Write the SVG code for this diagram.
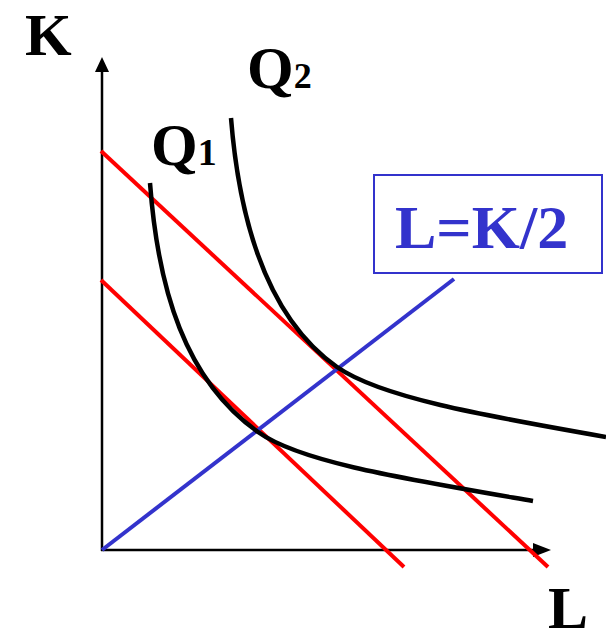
<svg xmlns="http://www.w3.org/2000/svg" width="606" height="632" viewBox="0 0 606 632">
<style>
.lbl{font-family:"Liberation Serif","Times New Roman",serif;font-weight:bold;fill:#000}
.axis{stroke:#000;stroke-width:2.5;fill:none}
.curve{stroke:#000;stroke-width:4.5;fill:none}
.budget{stroke:#ff0000;stroke-width:4;fill:none}
.ray{stroke:#3333cc;stroke-width:4;fill:none}
</style>
<rect width="606" height="632" fill="#fff"/>
<g id="axes">
<line class="axis" x1="102" y1="551" x2="102" y2="70"/>
<polygon points="102,57 95,72 109,72" fill="#000"/>
<line class="axis" x1="101" y1="550" x2="535" y2="550"/>
<polygon points="551,550 533,543 533,557" fill="#000"/>
<text class="lbl" x="25" y="55" font-size="60">K</text>
<text class="lbl" x="548" y="628" font-size="60">L</text>
</g>
<g id="connectors">
<line class="budget" x1="101" y1="151" x2="548" y2="567"/>
<line class="budget" x1="101" y1="280" x2="404" y2="567"/>
<line class="ray" x1="102" y1="550" x2="454" y2="279"/>
<path id="q1" class="curve" d="M150,183 C158,290 185,380 258,432 C300,462 400,478 533,501"/>
<path id="q2" class="curve" d="M231,118 C240,230 270,320 337,367 C380,397 480,415 606,437"/>
</g>
<g id="label-q1">
<text class="lbl" x="151" y="165" font-size="60">Q<tspan font-size="38">1</tspan></text>
</g>
<g id="label-q2">
<text class="lbl" x="247" y="88" font-size="60">Q<tspan font-size="36">2</tspan></text>
</g>
<g id="eq-box">
<rect x="374" y="175" width="228" height="98" fill="none" stroke="#3333cc" stroke-width="2"/>
<text x="395" y="248" font-size="62" font-family="Liberation Serif, Times New Roman, serif" font-weight="bold" fill="#3333cc">L=K/2</text>
</g>
</svg>
